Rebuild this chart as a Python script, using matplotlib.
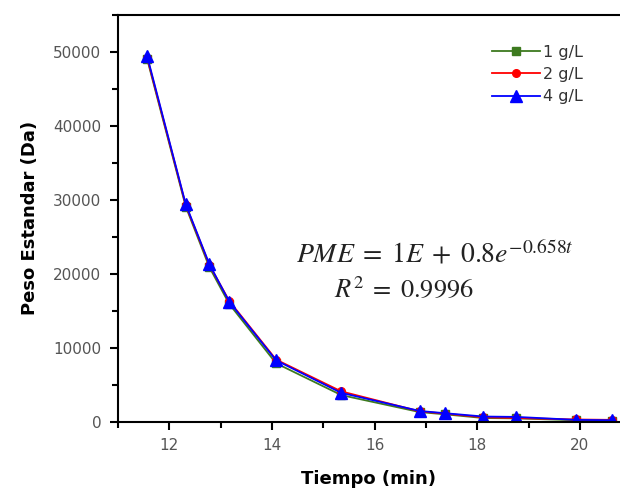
import matplotlib
matplotlib.use('Agg')
import matplotlib.pyplot as plt
from matplotlib.ticker import MultipleLocator

# datos
tiempo = [11.57, 12.32, 12.78, 13.17, 14.08, 15.35, 16.88, 17.37, 18.12, 18.76, 19.92, 20.62]
peso_1 = [49000, 29100, 20900, 15900, 7900, 3600, 1300, 1000, 500, 450, 200, 150]
peso_2 = [49200, 29300, 21200, 16300, 8400, 4100, 1400, 1100, 600, 500, 300, 250]
peso_4 = [49400, 29400, 21300, 16200, 8300, 3900, 1450, 1150, 700, 650, 250, 200]
etiquetas = ['1 g/L', '2 g/L', '4 g/L']

plt.rcParams['mathtext.fontset'] = 'stix'

fig = plt.figure(figsize=(6.2, 4.93), dpi=100)
ax = fig.add_axes([0.1903, 0.1446, 0.8097, 0.825])

ax.plot(tiempo, peso_1, color='#3d7a1f', marker='s', markersize=5.5, lw=1.3, label=etiquetas[0])
ax.plot(tiempo, peso_2, color='#ff0000', marker='o', markersize=5.5, lw=1.3, label=etiquetas[1])
ax.plot(tiempo, peso_4, color='#0000ff', marker='^', markersize=8, lw=1.3, label=etiquetas[2])

ax.set_xlim(11, 20.78)
ax.set_ylim(0, 55000)
ax.xaxis.set_major_locator(MultipleLocator(2))
ax.xaxis.set_minor_locator(MultipleLocator(1))
ax.yaxis.set_major_locator(MultipleLocator(10000))
ax.yaxis.set_minor_locator(MultipleLocator(5000))
ax.tick_params(which='major', direction='out', length=6, width=1.5, labelsize=11, labelcolor='#555555', pad=6)
ax.tick_params(which='minor', direction='out', length=4, width=1.5)
ax.spines['right'].set_visible(False)
for s in ['left', 'bottom', 'top']:
    ax.spines[s].set_linewidth(1.5)

ax.set_xlabel('Tiempo (min)', fontsize=13, fontweight='bold', labelpad=12)
ax.set_ylabel('Peso Estandar (Da)', fontsize=13, fontweight='bold', labelpad=10)

ax.text(0.631, 0.412, r'$PME\;=\;1E\;+\;0.8e^{-0.658t}$', transform=ax.transAxes,
        fontsize=20, ha='center', va='center', color='#222222')
ax.text(0.569, 0.324, r'$R^2\;=\;0.9996$', transform=ax.transAxes,
        fontsize=19, ha='center', va='center', color='#222222')

ax.legend(loc='upper right', bbox_to_anchor=(0.955, 0.962), frameon=False, fontsize=11.5,
          handlelength=3.0, labelspacing=0.45, handletextpad=0.2, labelcolor='#333333')

fig.savefig('out.png', dpi=100)
